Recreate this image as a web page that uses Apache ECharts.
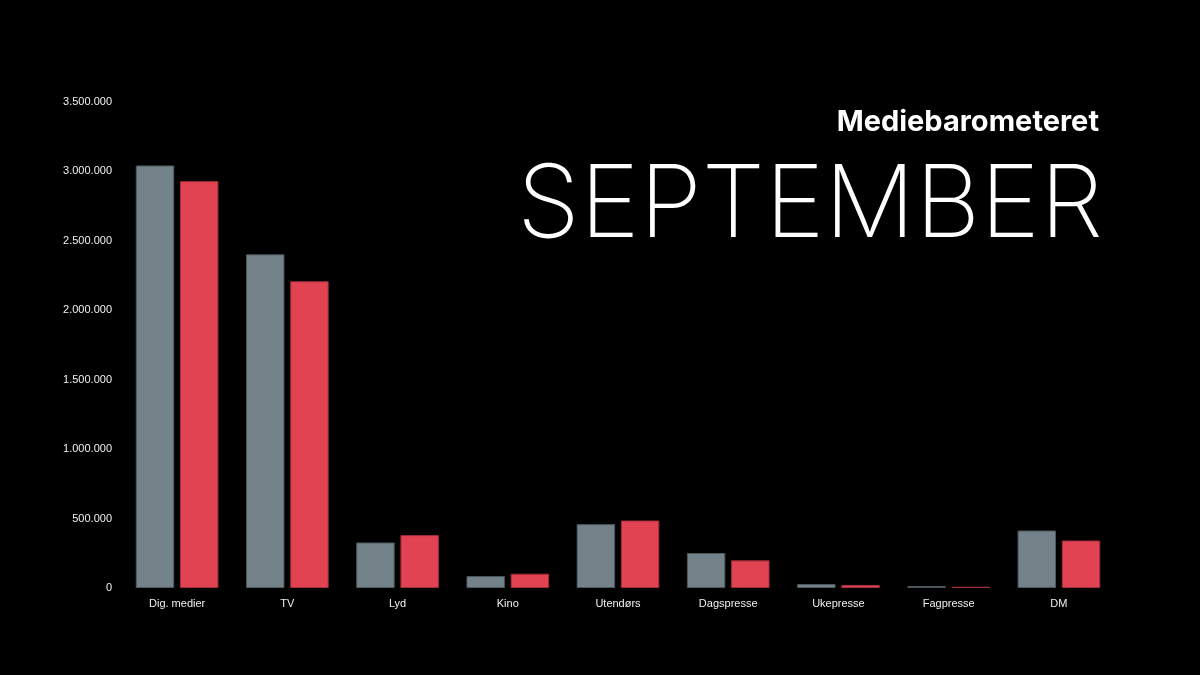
<!DOCTYPE html>
<html>
<head>
<meta charset="utf-8">
<script src="https://cdn.jsdelivr.net/npm/echarts@6/dist/echarts.min.js"></script>
<style>
  html, body { margin: 0; padding: 0; background: #000; }
  #chart { width: 1200px; height: 675px; }
</style>
</head>
<body>
<div id="chart"></div>
<script>
const categories = ['Dig. medier', 'TV', 'Lyd', 'Kino', 'Utendørs', 'Dagspresse', 'Ukepresse', 'Fagpresse', 'DM']
const greyValues = [3043000, 2403000, 328000, 86000, 460000, 252000, 29000, 14000, 414000]
const redValues = [2930000, 2209000, 381000, 103000, 486000, 199000, 22000, 9000, 342000]
const yTicks = [0, 500000, 1000000, 1500000, 2000000, 2500000, 3000000, 3500000]

const fmt = v => String(v).replace(/\B(?=(\d{3})+(?!\d))/g, '.')

var myChart = echarts.init(document.getElementById('chart'))
var option = {
    backgroundColor: '#000',
    animation: false,
    title: [{
        text: 'Mediebarometeret',
        right: 96,
        top: 103,
        textStyle: { color: '#fff', fontFamily: 'Inter', fontWeight: 'bold', fontSize: 29 }
    }, {
        text: 'SEPTEMBER',
        right: 92,
        top: 151,
        textStyle: { color: '#fff', fontFamily: 'Inter', fontWeight: 200, fontSize: 101 }
    }],
    grid: { left: 122, right: 86, top: 102, bottom: 87 },
    xAxis: {
        type: 'category',
        data: categories,
        axisLine: { show: false },
        axisTick: { show: false },
        axisLabel: { color: '#f0f0f0', fontSize: 11, fontFamily: 'Liberation Sans', margin: 10 }
    },
    yAxis: {
        type: 'value',
        min: yTicks[0],
        max: yTicks[yTicks.length - 1],
        interval: 500000,
        splitLine: { show: false },
        axisLabel: { color: '#f0f0f0', fontSize: 11, fontFamily: 'Liberation Sans', margin: 10, formatter: fmt }
    },
    series: [{
        type: 'bar',
        data: greyValues,
        barGap: '15%',
        barCategoryGap: '25%',
        itemStyle: { color: '#738288', borderColor: '#4c585c', borderWidth: 1 }
    }, {
        type: 'bar',
        data: redValues,
        itemStyle: { color: '#e24353', borderColor: '#a12f3a', borderWidth: 1 }
    }]
}
myChart.setOption(option)
</script>
</body>
</html>
